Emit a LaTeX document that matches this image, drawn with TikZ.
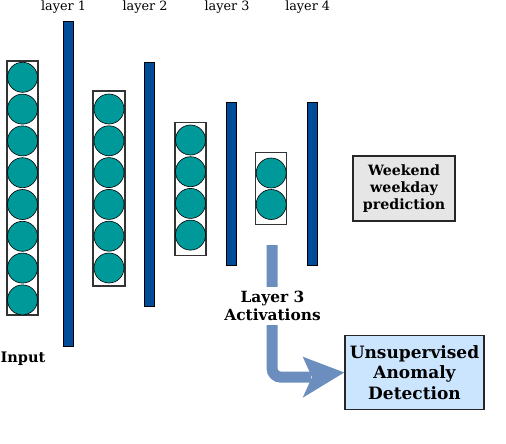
\documentclass[tikz,border=0pt]{standalone}
\usepackage{fontspec}
\setmainfont{DejaVu Serif}
\definecolor{teal1}{RGB}{0,153,153}
\definecolor{barblue}{RGB}{0,76,153}
\definecolor{arrowblue}{RGB}{108,142,191}
\definecolor{boxgray}{RGB}{230,230,230}
\definecolor{boxblue}{RGB}{204,229,255}
\begin{document}
\begin{tikzpicture}[x=1pt,y=-1pt,
  neuron/.style={circle,draw=black,line width=0.6pt,fill=teal1,minimum size=30pt,inner sep=0pt},
  colbox/.style={draw=black!80,line width=1.3pt,fill=white,inner sep=0pt},
  barnode/.style={draw=black,line width=0.8pt,fill=barblue,inner sep=0pt,minimum width=10pt},
  lyrlabel/.style={font=\fontsize{12.8}{15}\selectfont,inner sep=0pt},
  boldlabel/.style={align=center,inner sep=0pt},
  outbox/.style={draw=black!85,line width=1.5pt,align=center,inner sep=0pt}]
\useasboundingbox (0,0) rectangle (506,444);
% column boxes
\node[colbox,minimum width=31pt,minimum height=254pt] (c1) at (22.5,188) {};
\node[colbox,minimum width=32pt,minimum height=195pt] (c2) at (109,188.5) {};
\node[colbox,minimum width=31pt,minimum height=133pt] (c3) at (190.5,189.3) {};
\node[colbox,minimum width=31pt,minimum height=72pt] (c4) at (271.2,188.8) {};
% neurons
\foreach \i in {0,...,7} \node[neuron] (n1\i) at (22.5,77.3+31.8*\i) {};
\foreach \i in {0,...,5} \node[neuron] (n2\i) at (109,109+31.8*\i) {};
\foreach \i in {0,...,3} \node[neuron] (n3\i) at (190.5,140+31.7*\i) {};
\foreach \i in {0,...,1} \node[neuron] (n4\i) at (271.2,173+31.5*\i) {};
% bars
\node[barnode,minimum height=325pt] (b1) at (68.3,183.6) {};
\node[barnode,minimum height=244pt] (b2) at (149.3,184.1) {};
\node[barnode,minimum height=163pt] (b3) at (231.2,183.6) {};
\node[barnode,minimum height=163pt] (b4) at (312.5,183.6) {};
% layer labels
\node[lyrlabel] (l1) at (63.5,7) {layer 1};
\node[lyrlabel] (l2) at (145,7) {layer 2};
\node[lyrlabel] (l3) at (227,7) {layer 3};
\node[lyrlabel] (l4) at (307.7,7) {layer 4};
% output boxes
\node[outbox,fill=boxgray,minimum width=102pt,minimum height=65pt,font=\fontsize{14.2}{17}\selectfont\bfseries] (wk) at (404,188.5) {Weekend\\weekday\\prediction};
\node[outbox,fill=boxblue,minimum width=139pt,minimum height=74pt,font=\fontsize{17}{20.5}\selectfont\bfseries] (ua) at (414.5,372.5) {Unsupervised\\Anomaly\\Detection};
% arrow
\coordinate (astart) at (272,245);
\coordinate (acorner) at (272,377.2);
\coordinate (ashaft) at (311,377.2);
\draw[arrowblue,line width=11pt,rounded corners=9pt] (astart) -- (acorner) -- (ashaft);
\fill[arrowblue] (302.7,356.7) -- (ua.west) -- (302.7,397.7) -- (312,377.2) -- cycle;
% labels
\node[boldlabel,fill=white,inner ysep=4pt,inner xsep=2pt,font=\fontsize{15.4}{18}\selectfont\bfseries] (act) at (272.5,306.2) {Layer 3\\Activations};
\node[boldlabel,font=\fontsize{14.5}{17}\selectfont\bfseries] (inp) at (23,359) {Input};
\end{tikzpicture}
\end{document}
